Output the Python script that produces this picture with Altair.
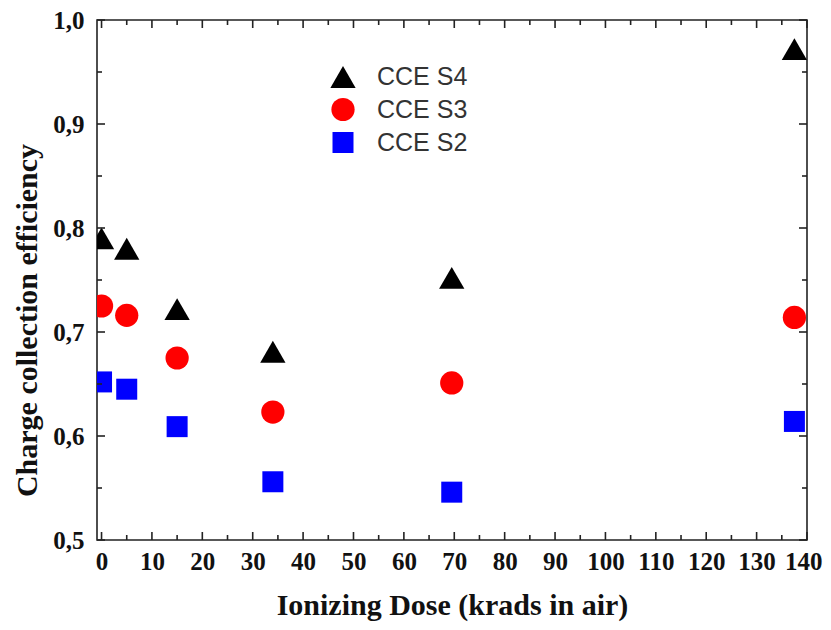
import altair as alt
import pandas as pd

# ---- data ----
series_names = ["CCE S4", "CCE S3", "CCE S2"]
dose = [0, 5, 15, 34, 69.5, 137.5]
cce_s4 = [0.790, 0.780, 0.722, 0.681, 0.752, 0.972]
cce_s3 = [0.725, 0.716, 0.675, 0.623, 0.651, 0.714]
cce_s2 = [0.652, 0.645, 0.609, 0.556, 0.546, 0.614]

x_major = list(range(0, 141, 10))
x_minor = list(range(5, 140, 10))
y_major = [0.5, 0.6, 0.7, 0.8, 0.9, 1.0]
y_minor = [0.55, 0.65, 0.75, 0.85, 0.95]

colors = ["#000000", "#ff0000", "#0000ff"]
shapes = ["triangle-up", "circle", "square"]
sizes = [640, 441, 324]

rows = []
for name, vals in zip(series_names, [cce_s4, cce_s3, cce_s2]):
    for d, v in zip(dose, vals):
        rows.append({"series": name, "dose": d, "cce": v})
df = pd.DataFrame(rows)

W, H = 710, 520
xscale = alt.Scale(domain=[-0.9, 140], nice=False, zero=False)
yscale = alt.Scale(domain=[0.5, 1.0], nice=False, zero=False)

serif = "Liberation Serif"
sans = "Liberation Sans"

xaxis = alt.Axis(values=x_major, ticks=False, tickSize=0, domain=False, grid=False,
                 labelFont=serif, labelFontWeight="bold", labelFontSize=25, labelColor="#111",
                 labelPadding=9, title="Ionizing Dose (krads in air)",
                 titleFont=serif, titleFontWeight="bold", titleFontSize=30, titleColor="#111",
                 titlePadding=16, labelFlush=2, labelFlushOffset=15, labelOverlap=False)
yaxis = alt.Axis(values=y_major, ticks=False, tickSize=0, domain=False, grid=False,
                 labelExpr="replace(format(datum.value, '.1f'), '.', ',')",
                 labelFont=serif, labelFontWeight="bold", labelFontSize=25, labelColor="#111",
                 labelPadding=13, title="Charge collection efficiency",
                 titleFont=serif, titleFontWeight="bold", titleFontSize=30, titleColor="#111",
                 titleX=-55, titleY=300, labelFlush=False, labelOverlap=False)

points = alt.Chart(df).mark_point(filled=True, opacity=1, clip=True, strokeWidth=0).encode(
    x=alt.X("dose:Q", scale=xscale, axis=xaxis),
    y=alt.Y("cce:Q", scale=yscale, axis=yaxis),
    color=alt.Color("series:N", scale=alt.Scale(domain=series_names, range=colors),
                    legend=alt.Legend(title=None, orient="none", legendX=233, legendY=44,
                                      padding=0, rowPadding=7, labelOffset=21,
                                      labelFont=sans, labelFontSize=25, labelColor="#333",
                                      symbolStrokeWidth=0, symbolOpacity=1)),
    shape=alt.Shape("series:N", scale=alt.Scale(domain=series_names, range=shapes)),
    size=alt.Size("series:N", scale=alt.Scale(domain=series_names, range=sizes)),
)

tick_color = "#222"
xmaj = pd.DataFrame({"v": x_major})
xmin = pd.DataFrame({"v": x_minor})
ymaj = pd.DataFrame({"v": y_major})
ymin = pd.DataFrame({"v": y_minor})

def xticks(data, length):
    bottom = alt.Chart(data).mark_rule(color=tick_color, strokeWidth=1.6).encode(
        x=alt.X("v:Q", scale=xscale, axis=xaxis), y=alt.value(H), y2=alt.value(H - length))
    top = alt.Chart(data).mark_rule(color=tick_color, strokeWidth=1.6).encode(
        x=alt.X("v:Q", scale=xscale, axis=xaxis), y=alt.value(0), y2=alt.value(length))
    return [bottom, top]

def yticks(data, length):
    left = alt.Chart(data).mark_rule(color=tick_color, strokeWidth=1.6).encode(
        y=alt.Y("v:Q", scale=yscale, axis=yaxis), x=alt.value(0), x2=alt.value(length))
    right = alt.Chart(data).mark_rule(color=tick_color, strokeWidth=1.6).encode(
        y=alt.Y("v:Q", scale=yscale, axis=yaxis), x=alt.value(W), x2=alt.value(W - length))
    return [left, right]

layers = [points] + xticks(xmaj, 8) + xticks(xmin, 5) + yticks(ymaj, 8) + yticks(ymin, 5)

chart = alt.layer(*layers).properties(
    width=W, height=H,
    autosize=alt.AutoSizeParams(type="none"),
    padding={"left": 89, "top": 12, "right": 16, "bottom": 82},
    background="white",
).configure_view(stroke="#222", strokeWidth=1.6)

chart.save("out.html", embed_options={"renderer": "svg", "actions": False})
